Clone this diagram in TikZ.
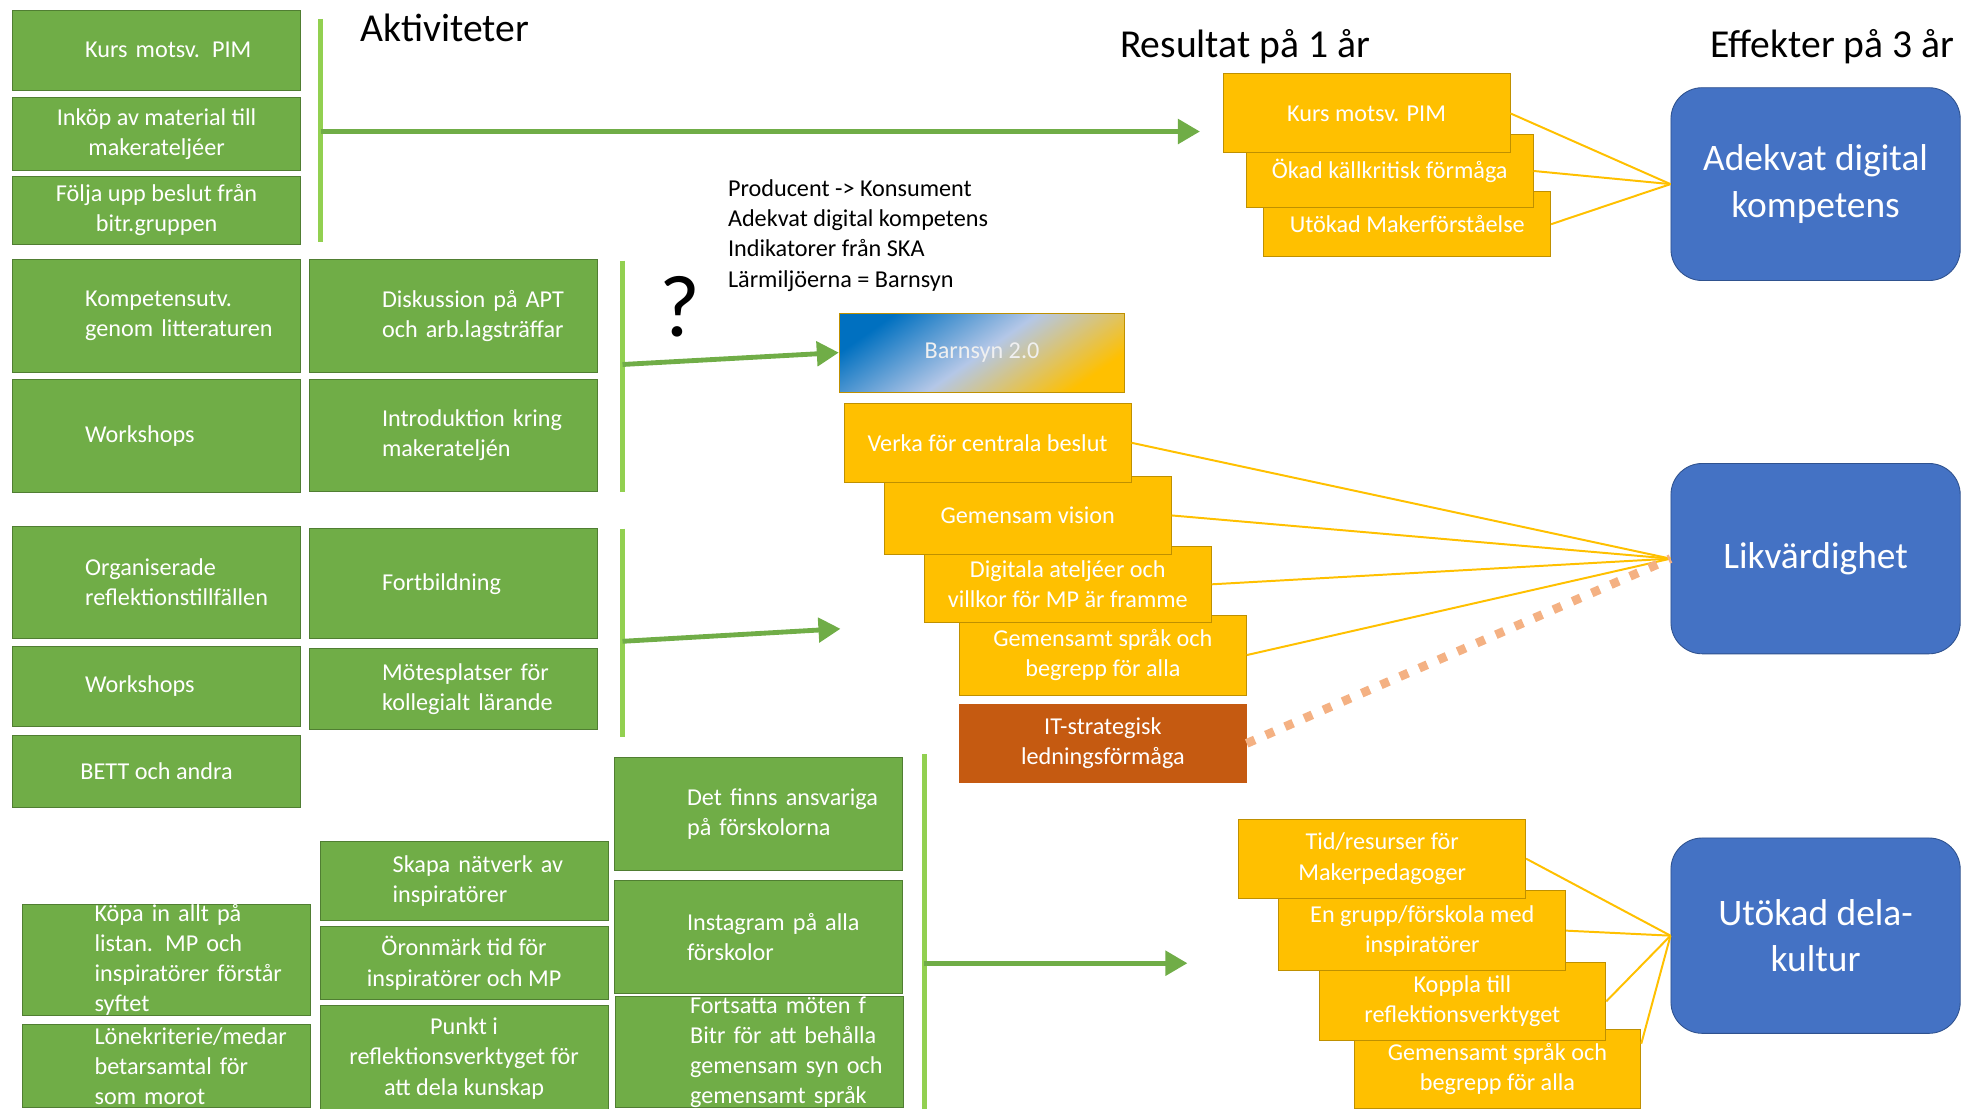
\documentclass[tikz,border=0pt]{standalone}
\usepackage{fontspec}
\setmainfont{Carlito}
\usetikzlibrary{arrows.meta}
\definecolor{grn}{HTML}{70AD47}
\definecolor{grnkant}{HTML}{507E32}
\definecolor{ljusgrn}{HTML}{92D050}
\definecolor{guld}{HTML}{FFC000}
\definecolor{guldkant}{HTML}{BF9000}
\definecolor{bla}{HTML}{4472C4}
\definecolor{blakant}{HTML}{2F528F}
\definecolor{rost}{HTML}{C55A11}
\definecolor{persika}{HTML}{F4B183}
\definecolor{barnbla}{HTML}{0070C0}
\definecolor{lavendel}{HTML}{B4C7E7}
\tikzstyle{aktiv}=[draw=grnkant,fill=grn,text=white,inner sep=0pt,minimum width=4.6cm,align=center,font=\fontsize{11}{13.7}\selectfont]
\tikzstyle{aktivv}=[aktiv,text width=4.6cm,align=left,execute at begin node={\leftskip=1.16cm}]
\tikzstyle{resultat}=[draw=guldkant,fill=guld,text=white,inner sep=0pt,minimum width=4.58cm,align=center,font=\fontsize{11}{13.7}\selectfont]
\tikzstyle{effekt}=[draw=blakant,fill=bla,text=white,rounded corners=0.5cm,minimum width=4.62cm,align=center,font=\fontsize{17}{21}\selectfont]
\tikzstyle{stapel}=[draw=ljusgrn,line width=2.2pt]
\tikzstyle{pil}=[draw=grn,line width=2.2pt,-{Triangle[length=10pt,width=11pt]}]
\tikzstyle{tunn}=[draw=guld,line width=0.9pt]
\tikzstyle{prickad}=[draw=persika,line width=4pt,dash pattern=on 4pt off 5.5pt]
\tikzstyle{rubrik}=[font=\fontsize{18}{22}\selectfont]

\begin{document}
\begin{tikzpicture}[x=0.02cm,y=-0.02cm]
\useasboundingbox (0,0) rectangle (1568,885);
\clip (0,0) rectangle (1568,885);
\node[rubrik] (akt) at (355,22) {Aktiviteter};
\node[rubrik] (res) at (994,37) {Resultat på 1 år};
\node[rubrik] (eff) at (1463,37) {Effekter på 3 år};

\node[aktivv,minimum height=1.28cm] (kurs) at (125,40) {Kurs motsv. PIM};
\node[aktiv,minimum height=1.16cm] (inkop) at (125,107) {Inköp av material till\\makerateljéer};
\node[aktiv,minimum height=1.08cm] (folja) at (125,168) {Följa upp beslut från\\bitr.gruppen};
\node[aktivv,minimum height=1.8cm] (komp) at (125,252) {Kompetensutv.\\genom litteraturen};
\node[aktivv,minimum height=1.8cm] (disk) at (362,252) {Diskussion på APT\\och arb.lagsträffar};
\node[aktivv,minimum height=1.8cm] (work1) at (125,348) {Workshops};
\node[aktivv,minimum height=1.78cm] (intro) at (362,347.5) {Introduktion kring\\makerateljén};
\node[aktivv,minimum height=1.8cm] (org) at (125,465) {Organiserade\\reflektionstillfällen};
\node[aktivv,minimum height=1.76cm] (fort) at (362,466) {Fortbildning};
\node[aktivv,minimum height=1.28cm] (work2) at (125,548) {Workshops};
\node[aktivv,minimum height=1.28cm] (mote) at (362,550) {Mötesplatser för\\kollegialt lärande};
\node[aktiv,minimum height=1.16cm] (bett) at (125,616) {BETT och andra};

\node[aktivv,minimum height=1.78cm] (kopa) at (132.5,766.5) {Köpa in allt på\\listan. MP och\\inspiratörer förstår\\syftet};
\node[aktivv,minimum height=1.32cm] (lone) at (132.5,851) {Lönekriterie/medar\\betarsamtal för\\som morot};
\node[aktivv,minimum height=1.26cm] (skapa) at (370.5,703.5) {Skapa nätverk av\\inspiratörer};
\node[aktiv,minimum height=1.16cm] (oron) at (370.5,769) {Öronmärk tid för\\inspiratörer och MP};
\node[aktiv,minimum height=1.68cm] (punkt) at (370.5,845) {Punkt i\\reflektionsverktyget för\\att dela kunskap};
\node[aktivv,minimum height=1.8cm] (finns) at (605.5,650) {Det finns ansvariga\\på förskolorna};
\node[aktivv,minimum height=1.8cm] (insta) at (605.5,748) {Instagram på alla\\förskolor};
\node[aktivv,minimum height=1.76cm,text width=4.54cm] (forts) at (606.5,840) {Fortsatta möten f\\Bitr för att behålla\\gemensam syn och\\gemensamt språk};

\node[font=\fontsize{40}{40}\selectfont] (fraga) at (543,245) {?};
\node[anchor=west,align=left,font=\fontsize{11}{13.7}\selectfont] (info) at (575,188) {Producent -> Konsument\\Adekvat digital kompetens\\Indikatorer från SKA\\Lärmiljöerna = Barnsyn};

\node[resultat,minimum height=1.04cm] (r3) at (1123.5,179) {Utökad Makerförståelse};
\node[resultat,minimum height=1.18cm] (r2) at (1109.5,136.5) {Ökad källkritisk förmåga};
\node[resultat,minimum height=1.26cm] (r1) at (1091,90.5) {Kurs motsv. PIM};

\node[resultat,minimum height=1.26cm,minimum width=4.56cm,top color=barnbla,bottom color=guld,middle color=lavendel,shading angle=35,text=white!88!gray] (barnsyn) at (784,281.5) {Barnsyn 2.0};
\node[resultat,minimum height=1.26cm,draw=rost,fill=rost] (it) at (880.5,593.5) {IT-strategisk\\ledningsförmåga};
\node[resultat,minimum height=1.28cm] (m4) at (880.5,523) {Gemensamt språk och\\begrepp för alla};
\node[resultat,minimum height=1.22cm] (m3) at (852.5,466.5) {Digitala ateljéer och\\villkor för MP är framme};
\node[resultat,minimum height=1.26cm] (m2) at (820.5,411.5) {Gemensam vision};
\node[resultat,minimum height=1.26cm] (m1) at (788.5,353.5) {Verka för centrala beslut};

\node[resultat,minimum height=1.26cm] (b4) at (1195.5,853.5) {Gemensamt språk och\\begrepp för alla};
\node[resultat,minimum height=1.26cm] (b3) at (1167.5,799.5) {Koppla till\\reflektionsverktyget};
\node[resultat,minimum height=1.28cm] (b2) at (1135.5,743) {En grupp/förskola med\\inspiratörer};
\node[resultat,minimum height=1.26cm] (b1) at (1103.5,685.5) {Tid/resurser för\\Makerpedagoger};

\node[effekt,minimum height=3.08cm] (adekvat) at (1449.5,147) {Adekvat digital\\kompetens};
\node[effekt,minimum height=3.04cm] (likv) at (1449.5,446) {Likvärdighet};
\node[effekt,minimum height=3.12cm] (utokad) at (1449.5,747) {Utökad dela-\\kultur};

\coordinate (s1a) at (256,15); \coordinate (s1b) at (256,193);
\coordinate (s2a) at (497,208); \coordinate (s2b) at (497,393);
\coordinate (s3a) at (497,422); \coordinate (s3b) at (497,588);
\coordinate (s4a) at (738,602); \coordinate (s4b) at (738,885);
\coordinate (p1a) at (256,105); \coordinate (p1b) at (958,105);
\coordinate (p2a) at (497,291);
\coordinate (p3a) at (497,512); \coordinate (p3b) at (671,502);
\coordinate (p4a) at (738,769); \coordinate (p4b) at (948,769);
\draw[stapel] (s1a) -- (s1b);
\draw[stapel] (s2a) -- (s2b);
\draw[stapel] (s3a) -- (s3b);
\draw[stapel] (s4a) -- (s4b);
\draw[pil] (p1a) -- (p1b);
\draw[pil] (p2a) -- (barnsyn.west);
\draw[pil] (p3a) -- (p3b);
\draw[pil] (p4a) -- (p4b);

\draw[tunn] (r1.east) -- (adekvat.west);
\draw[tunn] (r2.east) -- (adekvat.west);
\draw[tunn] (r3.east) -- (adekvat.west);
\draw[tunn] (m1.east) -- (likv.west);
\draw[tunn] (m2.east) -- (likv.west);
\draw[tunn] (m3.east) -- (likv.west);
\draw[tunn] (m4.east) -- (likv.west);
\draw[prickad] (it.east) -- (likv.west);
\draw[tunn] (b1.east) -- (utokad.west);
\draw[tunn] (b2.east) -- (utokad.west);
\draw[tunn] (b3.east) -- (utokad.west);
\draw[tunn] (b4.10) -- (utokad.west);
\end{tikzpicture}
\end{document}
